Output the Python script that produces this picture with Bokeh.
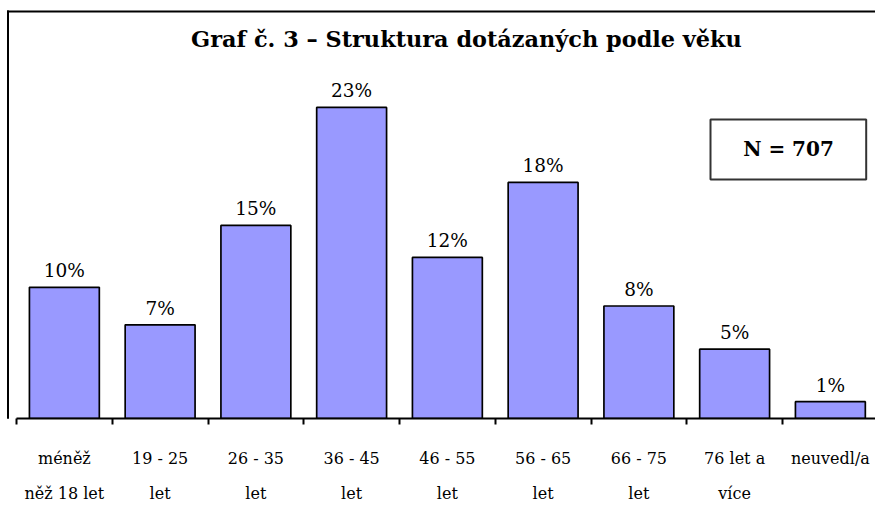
from bokeh.plotting import figure
from bokeh.models import (Range1d, FixedTicker, ColumnDataSource, LabelSet, Label,
                          BoxAnnotation, LinearAxis)
from bokeh.core.properties import value
from bokeh.embed import file_html
from bokeh.resources import INLINE

# ---- data ----
categories = ["méněž\nněž 18 let", "19 - 25\nlet", "26 - 35\nlet", "36 - 45\nlet",
              "46 - 55\nlet", "56 - 65\nlet", "66 - 75\nlet", "76 let a\nvíce", "neuvedl/a"]
percent = [9.90, 7.07, 14.57, 23.48, 12.16, 17.82, 8.49, 5.23, 1.27]
percent_labels = ["10%", "7%", "15%", "23%", "12%", "18%", "8%", "5%", "1%"]
title_text = "Graf č. 3 – Struktura dotázaných podle věku"
n_text = "N = 707"

# ---- layout ----
W, H = 875, 509
PX_PER_CAT = 95.75
PX_PER_PCT = 13.25
X0 = 16             # canvas x of the category axis start
BASE = 418          # canvas y of the category axis
BOTTOM = H - BASE
SERIF = "DejaVu Serif"


def dx(px):
    return (px - X0) / PX_PER_CAT


def dy(py):
    return (BASE - py) / PX_PER_PCT


n = len(categories)
xs = [i + 0.5 for i in range(n)]
src = ColumnDataSource(dict(x=xs, top=percent, label=percent_labels))

p = figure(width=W, height=H, output_backend="svg", toolbar_location=None,
           x_range=Range1d(dx(0), dx(W)),
           y_range=Range1d(0, BASE / PX_PER_PCT),
           min_border_left=0, min_border_right=0, min_border_top=0,
           min_border_bottom=BOTTOM, x_axis_type=None, y_axis_type=None)
p.grid.visible = False
p.outline_line_color = None
p.outline_line_alpha = 0
p.background_fill_color = "white"
p.border_fill_color = "white"

# outer chart border inside the plot area (clipped at the window edge)
p.quad(left=[dx(6.5), dx(6.5)], right=[dx(W + 60), dx(8.5)],
       top=[dy(10), dy(10)], bottom=[dy(12), dy(BASE + 20)],
       fill_color="black", line_color=None)

p.vbar(x="x", top="top", bottom=0, width=0.73, source=src,
       fill_color="#9999FF", line_color="black", line_width=1.7)

p.add_layout(LabelSet(x="x", y="top", text="label", source=src, y_offset=10,
                      text_align="center", text_baseline="alphabetic",
                      text_font=value(SERIF), text_font_size="18.5px", text_color="black"))

xaxis = LinearAxis(
    bounds=(0, n),
    ticker=FixedTicker(ticks=xs, minor_ticks=list(range(n + 1))),
    major_label_overrides={x: c for x, c in zip(xs, categories)},
    axis_line_color="black", axis_line_width=2,
    major_tick_line_color=None, major_tick_in=0, major_tick_out=0,
    minor_tick_line_color="black", minor_tick_line_width=2,
    minor_tick_in=0, minor_tick_out=6,
    major_label_text_font=SERIF, major_label_text_font_size="16px",
    major_label_text_line_height=1.85, major_label_standoff=24,
    major_label_text_color="black",
)
p.add_layout(xaxis, "below")

# title
p.add_layout(Label(x=dx(466), y=dy(38.7),
                   text=title_text, text_align="center", text_baseline="alphabetic",
                   text_font=SERIF, text_font_style="bold", text_font_size="22.4px",
                   text_color="black"))

# N box
p.add_layout(BoxAnnotation(left=dx(710), right=dx(865.7), top=dy(119), bottom=dy(179),
                           fill_color="white", fill_alpha=1.0,
                           line_color="#333333", line_width=2, line_alpha=1.0))
p.add_layout(Label(x=dx(788), y=dy(148),
                   text=n_text, text_align="center", text_baseline="middle",
                   text_font=SERIF, text_font_style="bold", text_font_size="20px",
                   text_color="black"))

# lower part of the left border, below the plot area
p.add_layout(BoxAnnotation(left=6.5, right=8.5, top=BASE - 2, bottom=H,
                           left_units="canvas", right_units="canvas",
                           top_units="canvas", bottom_units="canvas",
                           fill_color="black", fill_alpha=1.0,
                           line_color=None, line_alpha=0.0))

open("out.html", "w").write(file_html(p, INLINE))
